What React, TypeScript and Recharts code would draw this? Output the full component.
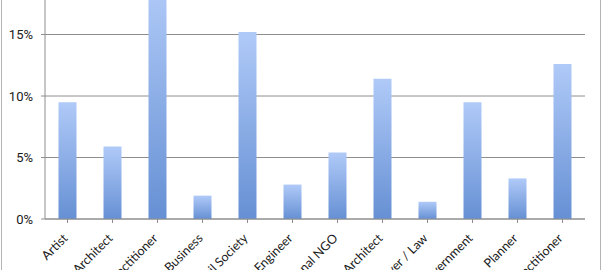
import React from 'react';
import { BarChart, Bar, XAxis, YAxis, CartesianGrid } from 'recharts';

const categories = [
  'Artist',
  'Architect',
  'Arts Practitioner',
  'Business',
  'Civil Society',
  'Engineer',
  'International NGO',
  'Landscape Architect',
  'Lawyer / Law',
  'Local Government',
  'Planner',
  'Spatial Practitioner',
];
const shares = [9.5, 5.9, 19.0, 1.9, 15.2, 2.8, 5.4, 11.4, 1.4, 9.5, 3.3, 12.6];
const yTicks = [0, 5, 10, 15, 20];

const data = categories.map((name, i) => ({ name, value: shares[i] }));

const FONT = 'Roboto, "Liberation Sans", Arial, sans-serif';
const XFONT = 'Lato, Roboto, "Liberation Sans", Arial, sans-serif';

const XTick = (props: any) => {
  const { x, y, payload } = props;
  return (
    <g transform={`translate(${x + 1},${y + 14})`}>
      <text
        x={0}
        y={0}
        textAnchor="end"
        fontSize={12.5}
        fontFamily={XFONT}
        fill="#1a1a1a"
        transform="rotate(-45)"
      >
        {payload.value}
      </text>
    </g>
  );
};

export default function App() {
  return (
    <div
      style={{
        position: 'fixed',
        left: 0,
        top: 0,
        width: 604,
        height: 270,
        overflow: 'hidden',
        background: '#fff',
      }}
    >
      <div
        style={{
          position: 'absolute',
          left: 1,
          top: -20,
          width: 600,
          height: 310,
          border: '1.5px solid #b4b4b4',
          boxSizing: 'border-box',
        }}
      />
      <div style={{ position: 'absolute', left: 0, top: -27 }}>
        <BarChart
          width={604}
          height={297}
          data={data}
          margin={{ top: 0, right: 19, bottom: 0, left: 0 }}
          barCategoryGap="30%"
        >
          <defs>
            <linearGradient id="barGrad" x1="0" y1="0" x2="0" y2="1">
              <stop offset="0%" stopColor="#b0caf8" />
              <stop offset="100%" stopColor="#6690d4" />
            </linearGradient>
          </defs>
          <CartesianGrid vertical={false} stroke="#8e8e8e" strokeWidth={1} />
          <XAxis
            dataKey="name"
            interval={0}
            height={51}
            stroke="#8e8e8e"
            tickLine={{ stroke: '#8e8e8e' }}
            tickSize={4}
            tick={<XTick />}
            allowDuplicatedCategory={true}
          />
          <YAxis
            width={45}
            domain={[0, 20]}
            ticks={yTicks}
            tickFormatter={(v: number) => `${v}%`}
            stroke="#8e8e8e"
            tickSize={4}
            tickMargin={8}
            tick={{ fontSize: 13, fontFamily: FONT, fill: '#1a1a1a' }}
          />
          <Bar dataKey="value" fill="url(#barGrad)" isAnimationActive={false} />
        </BarChart>
      </div>
    </div>
  );
}
